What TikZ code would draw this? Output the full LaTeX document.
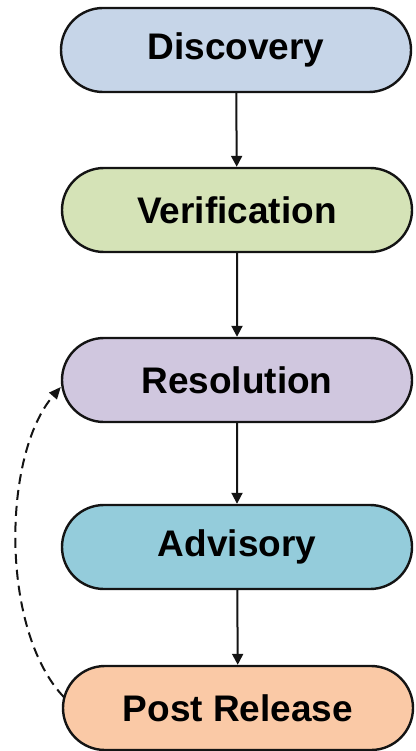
\documentclass[tikz,border=0pt]{standalone}
\usepackage{fontspec}
\setmainfont{Liberation Sans}
\usetikzlibrary{shapes.misc,arrows.meta}
\definecolor{cdisc}{HTML}{C6D5E8}
\definecolor{cver}{HTML}{D5E3B7}
\definecolor{cres}{HTML}{D0C7DF}
\definecolor{cadv}{HTML}{94CCDB}
\definecolor{cpost}{HTML}{FAC9A6}
\definecolor{cline}{HTML}{141414}
\begin{document}
\begin{tikzpicture}[x=1pt,y=-1pt,
  stage/.style={rounded rectangle, draw=cline, line width=2.4pt,
    minimum width=350pt, minimum height=84pt, inner sep=0pt,
    font=\fontsize{37}{42}\selectfont\bfseries, text=black},
  flow/.style={draw=cline, line width=2pt, -{Triangle[length=11pt,width=11pt]}},
  back/.style={draw=cline, line width=2pt, dash pattern=on 10pt off 6pt,
    -{Triangle[length=12pt,width=10pt]}}]
\useasboundingbox (0,0) rectangle (415,751);
\node[stage, fill=cdisc] (disc) at (236,50) {Discovery};
\node[stage, fill=cver] (ver) at (237,210) {Verification};
\node[stage, fill=cres] (res) at (237,380) {Resolution};
\node[stage, fill=cadv] (adv) at (237,547) {Advisory};
\node[stage, fill=cpost] (post) at (238,708) {Post Release};
\draw[flow] (disc) -- (ver);
\draw[flow] (ver) -- (res);
\draw[flow] (res) -- (adv);
\draw[flow] (adv) -- (post);
\coordinate (bstart) at ([shift={(2pt,11pt)}]post.west);
\coordinate (bend) at ([shift={(0pt,-7pt)}]res.west);
\draw[back] (bstart) .. controls (0,630) and (2,455) .. (bend);
\end{tikzpicture}
\end{document}
